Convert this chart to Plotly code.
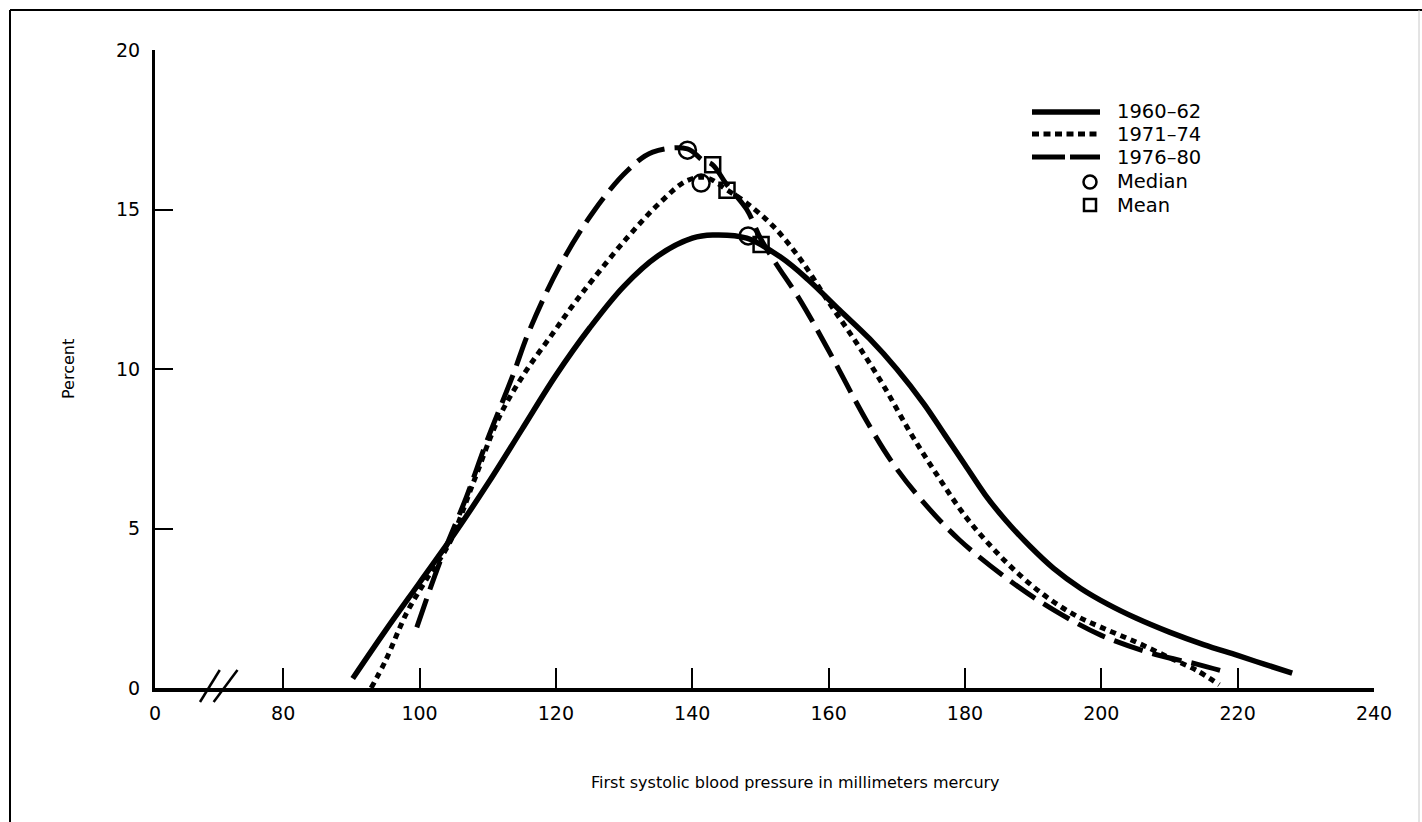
import plotly.graph_objects as go

# ---------------- data ----------------
x_1960 = [90.2, 95, 100, 105, 110, 115, 120, 125, 130, 135, 140, 143, 148, 153, 157,
          161.6, 166, 170, 174, 177, 180, 183, 186, 189.5, 193, 197, 201, 205, 210,
          215, 220, 224, 228]
y_1960 = [0.3, 1.8, 3.3, 4.8, 6.4, 8.1, 9.8, 11.3, 12.6, 13.55, 14.1, 14.2, 14.1, 13.5, 12.8,
          11.85, 10.95, 10.0, 8.9, 7.95, 7.0, 6.05, 5.25, 4.45, 3.75, 3.12, 2.62, 2.2, 1.75,
          1.36, 1.02, 0.74, 0.47]

x_1971 = [92.9, 95, 98.1, 101, 104.4, 108, 111.7, 115.5, 119.5, 122.5, 125.4, 130.4, 135.2,
          139.2, 142, 145.2, 148, 152, 156, 160, 164, 168, 172, 176, 180, 184, 188, 192,
          196, 200, 205, 210, 214, 217.3]
y_1971 = [0.0, 0.85, 2.35, 3.4, 4.55, 6.5, 8.5, 9.9, 11.1, 12.0, 12.8, 14.1, 15.2,
          15.9, 16.0, 15.6, 15.2, 14.45, 13.4, 12.1, 10.85, 9.5, 8.0, 6.65, 5.4, 4.4, 3.55, 2.85,
          2.3, 1.9, 1.45, 0.95, 0.55, 0.1]

x_1976 = [99.6, 102.9, 106.9, 109.8, 113.6, 116.1, 120.5, 125.4, 130.4, 134.2, 139.3, 141.5,
          143, 145, 148, 150, 152.3, 155.7, 159.7, 165.5, 169.4, 173.8, 179.2, 187, 193,
          200, 208, 214, 218.3]
y_1976 = [1.9, 3.9, 6.0, 7.7, 9.75, 11.2, 13.2, 14.9, 16.2, 16.8, 16.9, 16.55,
          16.4, 15.8, 15.0, 14.1, 13.3, 12.2, 10.7, 8.4, 7.05, 5.85, 4.64, 3.3, 2.45,
          1.65, 1.05, 0.75, 0.5]

median_x = [148.2, 141.3, 139.3]
median_y = [14.17, 15.83, 16.86]
mean_x = [150.1, 145.1, 143.0]
mean_y = [13.9, 15.6, 16.4]

series_names = ["1960\u201362", "1971\u201374", "1976\u201380"]
x_tick_vals = [61.2, 80, 100, 120, 140, 160, 180, 200, 220, 240]
x_tick_text = ["0", "80", "100", "120", "140", "160", "180", "200", "220", "240"]
y_tick_vals = [0, 5, 10, 15, 20]

# ---------------- layout geometry ----------------
W, H = 1422, 822
L, R, T, B = 155, 48, 50, 134
PW, PH = W - L - R, H - T - B
FONT = "DejaVu Sans"


def pxx(x):
    return (x - L) / PW


def pxy(y):
    return (H - B - y) / PH


fig = go.Figure()

styles = [dict(dash="solid", width=5.5),
          dict(dash="6px,5px", width=5),
          dict(dash="30px,10px", width=5)]

for xs, ys, st, nm in zip([x_1960, x_1971, x_1976], [y_1960, y_1971, y_1976], styles, series_names):
    fig.add_trace(go.Scatter(x=xs, y=ys, mode="lines", name=nm, showlegend=False,
                             line=dict(color="black", shape="spline", smoothing=1.0, **st)))

fig.add_trace(go.Scatter(x=median_x, y=median_y, mode="markers", name="Median", showlegend=False,
                         marker=dict(symbol="circle-open", size=17, color="black",
                                     line=dict(width=2.5, color="black"))))
fig.add_trace(go.Scatter(x=mean_x, y=mean_y, mode="markers", name="Mean", showlegend=False,
                         marker=dict(symbol="square-open", size=15, color="black",
                                     line=dict(width=2.5, color="black"))))

shapes = []
annotations = []

# frame around the figure
shapes.append(dict(type="line", xref="paper", yref="paper", x0=pxx(10), x1=pxx(10),
                   y0=pxy(830), y1=pxy(10), line=dict(color="black", width=2)))
shapes.append(dict(type="line", xref="paper", yref="paper", x0=pxx(10), x1=pxx(1425),
                   y0=pxy(10), y1=pxy(10), line=dict(color="black", width=2)))
shapes.append(dict(type="line", xref="paper", yref="paper", x0=pxx(1419), x1=pxx(1419),
                   y0=pxy(830), y1=pxy(10), line=dict(color="#c8c8c8", width=1)))

# axis break marks
for xa, xb in [(67.8, 70.7), (69.8, 73.3)]:
    shapes.append(dict(type="line", xref="x", yref="paper", x0=xa, x1=xb,
                       y0=pxy(702), y1=pxy(670), line=dict(color="black", width=2.5)))

# custom legend
leg_rows = [112, 134, 157, 182, 205]
shapes.append(dict(type="line", xref="paper", yref="paper", x0=pxx(1032), x1=pxx(1100),
                   y0=pxy(leg_rows[0]), y1=pxy(leg_rows[0]), line=dict(color="black", width=5.5)))
shapes.append(dict(type="line", xref="paper", yref="paper", x0=pxx(1032), x1=pxx(1100),
                   y0=pxy(leg_rows[1]), y1=pxy(leg_rows[1]),
                   line=dict(color="black", width=5, dash="7px,4.5px")))
shapes.append(dict(type="line", xref="paper", yref="paper", x0=pxx(1032), x1=pxx(1100),
                   y0=pxy(leg_rows[2]), y1=pxy(leg_rows[2]),
                   line=dict(color="black", width=5, dash="33px,5px")))
cx, r = 1090, 6.5
shapes.append(dict(type="circle", xref="paper", yref="paper",
                   x0=pxx(cx - r), x1=pxx(cx + r), y0=pxy(leg_rows[3] + r), y1=pxy(leg_rows[3] - r),
                   line=dict(color="black", width=2.5)))
shapes.append(dict(type="rect", xref="paper", yref="paper",
                   x0=pxx(cx - 6), x1=pxx(cx + 6), y0=pxy(leg_rows[4] + 6), y1=pxy(leg_rows[4] - 6),
                   line=dict(color="black", width=2.5)))
for yrow, txt in zip(leg_rows, series_names + ["Median", "Mean"]):
    annotations.append(dict(xref="paper", yref="paper", x=pxx(1115), y=pxy(yrow),
                            xanchor="left", yanchor="middle", text=txt, showarrow=False,
                            font=dict(family=FONT, size=19.5, color="black")))

# axis titles
annotations.append(dict(xref="paper", yref="paper", x=pxx(795), y=pxy(782),
                        xanchor="center", yanchor="middle", showarrow=False,
                        text="First systolic blood pressure in millimeters mercury",
                        font=dict(family=FONT, size=16, color="black")))
annotations.append(dict(xref="paper", yref="paper", x=pxx(68), y=pxy(369),
                        xanchor="center", yanchor="middle", showarrow=False, textangle=-90,
                        text="Percent", font=dict(family=FONT, size=16, color="black")))

fig.update_layout(
    width=W, height=H,
    margin=dict(l=L, r=R, t=T, b=B),
    paper_bgcolor="white", plot_bgcolor="white",
    showlegend=False,
    shapes=shapes, annotations=annotations,
    font=dict(family=FONT, color="black"),
)
fig.update_xaxes(range=[61.2, 240], tickvals=x_tick_vals, ticktext=x_tick_text,
                 ticks="inside", ticklen=20, tickwidth=2, tickcolor="black",
                 showline=True, linewidth=3.5, linecolor="black",
                 showgrid=False, zeroline=False, ticklabelstandoff=5,
                 tickfont=dict(family=FONT, size=19, color="black"))
fig.update_yaxes(range=[0, 20], tickvals=y_tick_vals,
                 ticks="inside", ticklen=18, tickwidth=2, tickcolor="black",
                 showline=True, linewidth=3, linecolor="black",
                 showgrid=False, zeroline=False, ticklabelstandoff=8,
                 tickfont=dict(family=FONT, size=19, color="black"))

fig.write_html("out.html")
